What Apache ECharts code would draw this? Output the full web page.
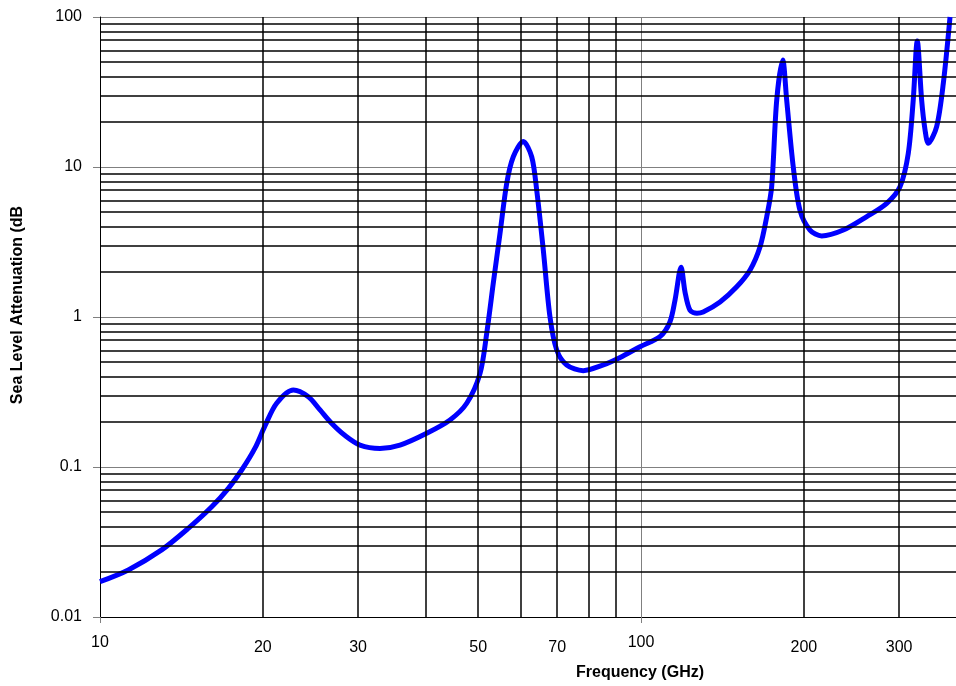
<!DOCTYPE html>
<html>
<head>
<meta charset="utf-8">
<script src="https://cdn.jsdelivr.net/npm/echarts@6/dist/echarts.min.js"></script>
<style>
  html, body { margin: 0; padding: 0; background: #fff; }
  #chart { width: 956px; height: 686px; }
</style>
</head>
<body>
<div id="chart"></div>
<script>
// GHz vs dB
const freq = [10.0, 11.28, 13.0, 14.56, 16.09, 17.27, 18.28, 19.35, 20.18, 21.21, 22.77, 24.27, 25.51, 26.82, 28.38, 30.24, 32.93, 35.85, 40.17, 44.36, 47.63, 50.41, 51.86, 53.33, 54.88, 56.47, 58.07, 60.58, 62.8, 64.15, 65.98, 67.89, 69.86, 72.9, 78.2, 85.2, 91.5, 99.6, 108.4, 113.1, 115.6, 118.6, 120.6, 123.2, 126.9, 130.3, 140.0, 150.3, 159.1, 166.0, 170.8, 174.4, 178.2, 182.8, 185.9, 191.2, 196.7, 205.3, 215.8, 236.6, 261.4, 284.6, 301.1, 311.9, 318.6, 324.1, 330.2, 335, 339.7, 352.0, 362.1, 372.6]
const atten = [0.0172, 0.0206, 0.0280, 0.0390, 0.0543, 0.0721, 0.0955, 0.134, 0.188, 0.266, 0.326, 0.294, 0.240, 0.195, 0.162, 0.140, 0.133, 0.140, 0.168, 0.206, 0.266, 0.421, 0.778, 1.68, 3.61, 7.78, 11.7, 14.8, 11.7, 7.03, 2.80, 1.00, 0.603, 0.479, 0.439, 0.479, 0.537, 0.634, 0.740, 0.927, 1.30, 2.15, 1.47, 1.11, 1.06, 1.08, 1.26, 1.59, 2.06, 2.94, 4.67, 7.39, 28.0, 51.7, 28.0, 10.0, 5.16, 3.80, 3.47, 3.80, 4.67, 5.73, 7.39, 12.3, 28.0, 69.2, 28.0, 17.7, 14.4, 18.6, 36.1, 100]

const xMinorLines = [20, 30, 40, 50, 60, 70, 80, 90, 200, 300]
const xMinorLabels = [20, 30, 50, 70, 200, 300]
const yMinorLines = [
  0.02, 0.03, 0.04, 0.05, 0.06, 0.07, 0.08, 0.09,
  0.2, 0.3, 0.4, 0.5, 0.6, 0.7, 0.8, 0.9,
  2, 3, 4, 5, 6, 7, 8, 9,
  20, 30, 40, 50, 60, 70, 80, 90
]

const font = "'Liberation Sans', Arial, sans-serif"

const chart = echarts.init(document.getElementById("chart"))

const gridMarks = [
  ...xMinorLines.map((v) => ({
    xAxis: v,
    label: { show: xMinorLabels.includes(v) }
  })),
  ...yMinorLines.map((v) => ({ yAxis: v, label: { show: false } }))
]

const option = {
  animation: false,
  title: {
    text: "Frequency (GHz)",
    left: 640,
    top: 665,
    textAlign: "center",
    padding: 0,
    textStyle: { fontFamily: font, fontSize: 16, fontWeight: "bold", color: "#000" }
  },
  // y title sits a little above centre in the original (its ")" is cut off)
  graphic: [
    {
      type: "text",
      x: 18,
      y: 305,
      rotation: Math.PI / 2,
      style: {
        text: "Sea Level Attenuation (dB",
        fill: "#000",
        font: "bold 16px " + font,
        textAlign: "center",
        textVerticalAlign: "middle"
      }
    }
  ],
  grid: { left: 100, right: 0, top: 17, bottom: 69, containLabel: false },
  xAxis: {
    type: "log",
    logBase: 10,
    min: 10,
    max: 382.2,
    axisLine: { show: true, lineStyle: { color: "#000", width: 1 } },
    axisTick: { show: true, length: 6, lineStyle: { color: "#808080" } },
    axisLabel: {
      margin: 18,
      color: "#000",
      fontFamily: font,
      fontSize: 16,
      showMaxLabel: false
    },
    splitLine: { show: true, lineStyle: { color: "#808080", width: 1 } }
  },
  yAxis: {
    type: "log",
    logBase: 10,
    min: 0.01,
    max: 100,
    axisLine: { show: true, lineStyle: { color: "#000", width: 1 } },
    axisTick: { show: true, length: 7, lineStyle: { color: "#808080" } },
    axisLabel: {
      margin: 18,
      color: "#000",
      fontFamily: font,
      fontSize: 16,
      formatter: (v) => String(v)
    },
    splitLine: { show: true, lineStyle: { color: "#808080", width: 1 } }
  },
  series: [
    {
      name: "grid",
      type: "line",
      data: [],
      z: 1,
      silent: true,
      markLine: {
        silent: true,
        symbol: "none",
        animation: false,
        lineStyle: { color: "#000", width: 1.5, type: "solid" },
        label: {
          position: "start",
          distance: 23,
          color: "#000",
          fontFamily: font,
          fontSize: 16,
          formatter: (p) => String(p.value)
        },
        emphasis: { disabled: true },
        data: gridMarks
      }
    },
    {
      name: "attenuation",
      type: "line",
      z: 3,
      data: freq.map((f, i) => [f, atten[i]]),
      showSymbol: false,
      smooth: 0.3,
      clip: true,
      lineStyle: { color: "#0000ff", width: 5 }
    }
  ]
}

chart.setOption(option)
</script>
</body>
</html>
